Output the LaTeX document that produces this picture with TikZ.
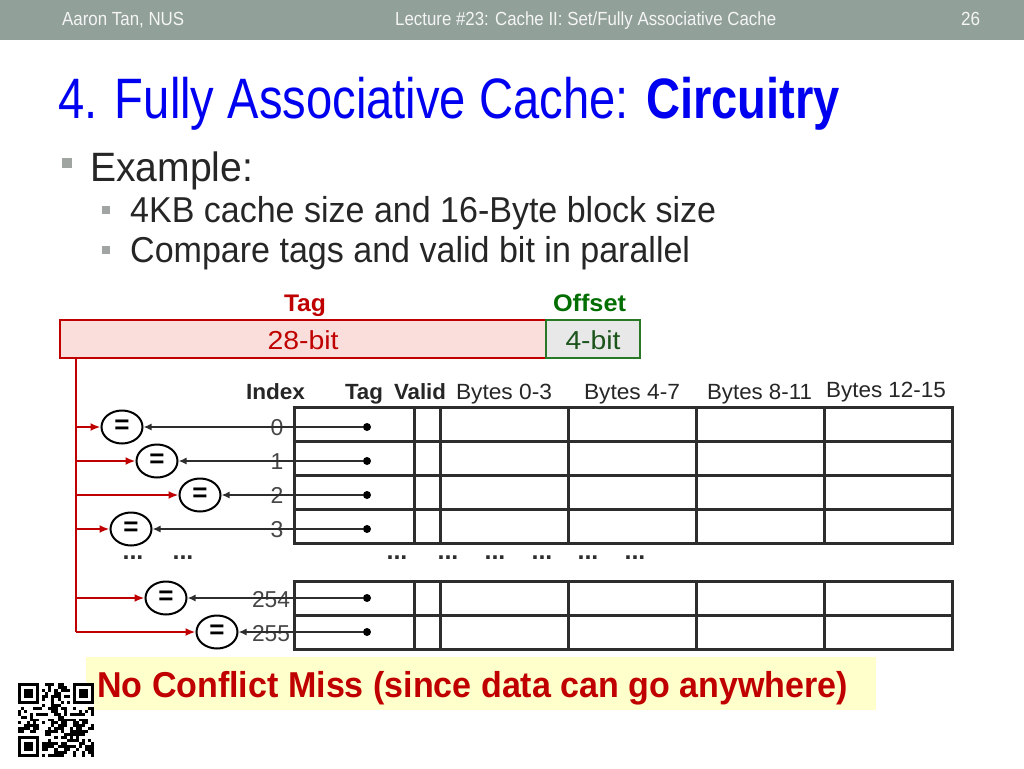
\documentclass[tikz,border=0pt]{standalone}
\usepackage{fontspec}
\setmainfont{Liberation Sans}
\usepackage{graphicx}
\usetikzlibrary{shapes.geometric,arrows.meta}
\definecolor{hdr}{RGB}{145,160,152}
\definecolor{hdrtext}{RGB}{245,245,245}
\definecolor{titleblue}{RGB}{0,0,240}
\definecolor{bodytext}{RGB}{38,38,38}
\definecolor{bulg}{RGB}{160,165,162}
\definecolor{darkred}{RGB}{192,0,0}
\definecolor{darkgreen}{RGB}{0,110,0}
\definecolor{offgreen}{RGB}{40,120,40}
\definecolor{tagfill}{RGB}{249,222,220}
\definecolor{offfill}{RGB}{232,232,232}
\definecolor{tbl}{RGB}{45,45,45}
\definecolor{numgray}{RGB}{70,70,70}
\definecolor{ybox}{RGB}{255,255,204}
\newcommand{\fitw}[2]{\resizebox{#1pt}{\height}{#2}}
\newcommand{\fs}[1]{\fontsize{#1}{#1}\selectfont}
\tikzset{
  lbl/.style={inner sep=0pt, anchor=base west},
  clbl/.style={inner sep=0pt, anchor=base},
  cmp/.style={ellipse, draw=black, line width=2pt, minimum width=41pt, minimum height=33pt, inner sep=0pt, fill=white},
  tline/.style={draw=tbl, line width=3pt},
  redarr/.style={draw=darkred, line width=2.2pt, -{Latex[length=10pt,width=8pt]}},
  blkarr/.style={draw=tbl, line width=1.8pt, -{Latex[length=8pt,width=7pt]}},
  dotn/.style={circle, fill=black, inner sep=0pt, minimum size=8pt},
  dots/.style={inner sep=0pt, anchor=center, text=tbl}
}
\begin{document}
\begin{tikzpicture}[x=1pt,y=-1pt]
\useasboundingbox (0,0) rectangle (1024,768);
\fill[white] (0,0) rectangle (1024,768);
% header
\fill[hdr] (0,0) rectangle (1024,40);
\node[lbl,text=hdrtext] (h1) at (62,26) {\fitw{122}{\fs{19}Aaron Tan, NUS}};
\node[lbl,text=hdrtext] (h2) at (395,26) {\fitw{381}{\fs{19}Lecture \#23: Cache II: Set/Fully Associative Cache}};
\node[lbl,text=hdrtext] (h3) at (961,26) {\fitw{19}{\fs{19}26}};
% title
\node[lbl,text=titleblue] (title) at (58,118) {\fitw{782}{\fs{57}4. Fully Associative Cache: \textbf{Circuitry}}};
% bullets
\fill[bulg] (62,158) rectangle (72,168);
\node[lbl,text=bodytext] (ex) at (90,181) {\fitw{163}{\fs{41}Example:}};
\fill[bulg] (102,206) rectangle (110,214);
\fill[bulg] (102,246) rectangle (110,254);
\node[lbl,text=bodytext] (b1) at (130,222) {\fitw{586}{\fs{36}4KB cache size and 16-Byte block size}};
\node[lbl,text=bodytext] (b2) at (130,262) {\fitw{560}{\fs{36}Compare tags and valid bit in parallel}};
% address
\node[clbl,text=darkred] (taglbl) at (305,311) {\fitw{42}{\fs{24}\bfseries Tag}};
\node[clbl,text=darkgreen] (offlbl) at (589.5,311) {\fitw{73}{\fs{24}\bfseries Offset}};
\node[draw=darkred, fill=tagfill, line width=2pt, minimum width=486pt, minimum height=38pt, inner sep=0pt] (tagf) at (303,339) {};
\node[draw=offgreen, fill=offfill, line width=2pt, minimum width=94pt, minimum height=38pt, inner sep=0pt] (offf) at (593,339) {};
\node[clbl,text=darkred] (t28) at (303,349) {\fitw{71}{\fs{26}28-bit}};
\node[clbl,text=offgreen!70!black] (t4) at (593,349) {\fitw{55}{\fs{26}4-bit}};
% table headers
\node[clbl,text=bodytext] (hidx) at (275.5,399) {\fitw{59}{\fs{22}\bfseries Index}};
\node[clbl,text=bodytext] (htag) at (364,399) {\fitw{38}{\fs{22}\bfseries Tag}};
\node[clbl,text=bodytext] (hval) at (420,399) {\fitw{52}{\fs{22}\bfseries Valid}};
\node[clbl,text=bodytext] (hb0) at (504,399) {\fitw{96}{\fs{22}Bytes 0-3}};
\node[clbl,text=bodytext] (hb1) at (632,399) {\fitw{96}{\fs{22}Bytes 4-7}};
\node[clbl,text=bodytext] (hb2) at (759.5,399) {\fitw{105}{\fs{22}Bytes 8-11}};
\node[clbl,text=bodytext] (hb3) at (886,397) {\fitw{120}{\fs{22}Bytes 12-15}};
% table
\foreach \y in {407,441,475,509,543,581,615,649} \draw[tline] (292.5,\y) -- (953.5,\y);
\foreach \x in {294,414,440,568,696,824,952} {
  \draw[tline] (\x,407) -- (\x,543);
  \draw[tline] (\x,581) -- (\x,649);
}
% index numbers
\node[clbl,text=numgray] (n0) at (277,435) {\fs{23}0};
\node[clbl,text=numgray] (n1) at (277,469) {\fs{23}1};
\node[clbl,text=numgray] (n2) at (277,503) {\fs{23}2};
\node[clbl,text=numgray] (n3) at (277,537) {\fs{23}3};
\node[clbl,text=numgray] (n254) at (271,607) {\fitw{38}{\fs{23}254}};
\node[clbl,text=numgray] (n255) at (271,641) {\fitw{38}{\fs{23}255}};
% dots
\node[dots] (d1) at (133,558) {\fs{25}\bfseries ...};
\node[dots] (d2) at (183,558) {\fs{25}\bfseries ...};
\foreach \x/\n in {397/a,448/b,495/c,542/d,588/e,635/f}
  \node[dots] (dd\n) at (\x,558) {\fs{25}\bfseries ...};
% comparators
\node[cmp] (e0) at (122,427) {\fs{26}\bfseries =};
\node[cmp] (e1) at (157,461) {\fs{26}\bfseries =};
\node[cmp] (e2) at (200,495) {\fs{26}\bfseries =};
\node[cmp] (e3) at (131,529) {\fs{26}\bfseries =};
\node[cmp] (e254) at (166,598) {\fs{26}\bfseries =};
\node[cmp] (e255) at (217,632) {\fs{26}\bfseries =};
% tag dots
\node[dotn] (p0) at (367,427) {};
\node[dotn] (p1) at (367,461) {};
\node[dotn] (p2) at (367,495) {};
\node[dotn] (p3) at (367,529) {};
\node[dotn] (p254) at (367,598) {};
\node[dotn] (p255) at (367,632) {};
\foreach \k in {0,1,2,3,254,255} \draw[blkarr] (p\k) -- (e\k.east);
% red bus
\coordinate (rtop) at (76,358);
\coordinate (rbot) at (76,632);
\draw[darkred, line width=2.2pt] (rtop) -- (rbot);
\coordinate (r0) at (76,427);
\coordinate (r1) at (76,461);
\coordinate (r2) at (76,495);
\coordinate (r3) at (76,529);
\coordinate (r254) at (76,598);
\coordinate (r255) at (76,632);
\foreach \k in {0,1,2,3,254,255} \draw[redarr] (r\k) -- (e\k.west);
% conclusion
\node[fill=ybox, minimum width=790pt, minimum height=53pt, inner sep=0pt] (yb) at (481,683.5) {};
\node[lbl,text=darkred] (concl) at (97,697) {\fitw{751}{\fs{36}\bfseries No Conflict Miss (since data can go anywhere)}};
% QR code (pseudo pattern)
\pgfmathsetseed{17}
\foreach \i in {0,...,24}{
  \foreach \j in {0,...,24}{
    \pgfmathsetmacro\r{rnd}
    \ifdim\r pt<0.5pt \fill[black] ({18+\i*3.04},{683+\j*2.96}) rectangle ++(3.04,2.96);\fi
  }
}
\foreach \a/\b in {0/0,18/0,0/18}{
  \fill[white] ({18+(\a-(\a>0))*3.04},{683+(\b-(\b>0))*2.96}) rectangle ++(8*3.04,8*2.96);
  \fill[black] ({18+\a*3.04},{683+\b*2.96}) rectangle ++(7*3.04,7*2.96);
  \fill[white] ({18+(\a+1)*3.04},{683+(\b+1)*2.96}) rectangle ++(5*3.04,5*2.96);
  \fill[black] ({18+(\a+2)*3.04},{683+(\b+2)*2.96}) rectangle ++(3*3.04,3*2.96);
}
\end{tikzpicture}
\end{document}
